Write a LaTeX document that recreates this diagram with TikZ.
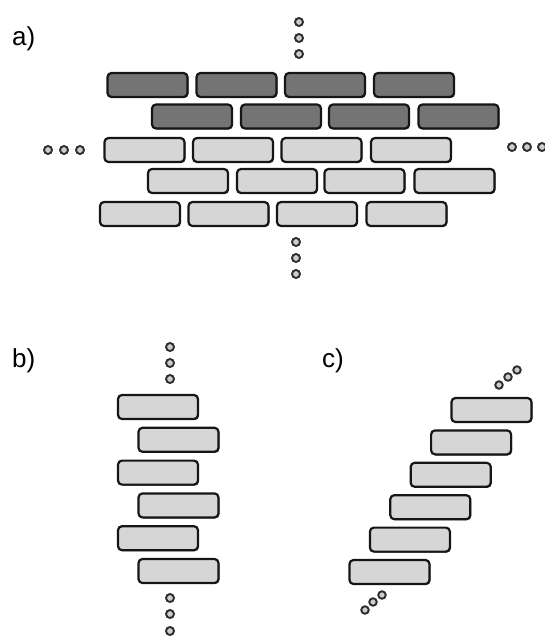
\documentclass[tikz,border=0pt]{standalone}
\usepackage{fontspec}
\setmainfont{Liberation Sans}
\usetikzlibrary{shadows}
\definecolor{brickdark}{RGB}{116,116,116}
\definecolor{bricklight}{RGB}{214,214,214}
\definecolor{edge}{RGB}{22,22,22}
\definecolor{dotfill}{RGB}{205,205,205}
\tikzset{
  brickbase/.style={draw=edge, line width=2.2pt, rounded corners=4pt,
    minimum width=80pt, minimum height=24pt, inner sep=0pt,
    drop shadow={shadow xshift=0.9pt, shadow yshift=-0.9pt, fill=black, opacity=0.85}},
  dbrick/.style={brickbase, fill=brickdark},
  lbrick/.style={brickbase, fill=bricklight},
  ellip/.style={circle, draw=edge!90!white, fill=dotfill, line width=1.9pt, minimum size=8pt, inner sep=0pt},
  sellip/.style={ellip, minimum size=7.5pt},
  panel/.style={anchor=base west, inner sep=0pt, font=\fontsize{26}{30}\selectfont}
}
\begin{document}
\begin{tikzpicture}[x=1pt, y=-1pt]
\useasboundingbox (0,0) rectangle (544,637);

% ---------- a) wall ----------
\node[panel] (la) at (12,45) {a)};

% top course, dark
\node[dbrick] (a11) at (147.5,85) {};
\node[dbrick] (a12) at (236.5,85) {};
\node[dbrick] (a13) at (325,85) {};
\node[dbrick] (a14) at (414,85) {};
% second course, dark
\node[dbrick] (a21) at (192,116.5) {};
\node[dbrick] (a22) at (281,116.5) {};
\node[dbrick] (a23) at (369,116.5) {};
\node[dbrick] (a24) at (458.5,116.5) {};
% third course
\node[lbrick] (a31) at (144.5,150) {};
\node[lbrick] (a32) at (233,150) {};
\node[lbrick] (a33) at (321.5,150) {};
\node[lbrick] (a34) at (411,150) {};
% fourth course
\node[lbrick] (a41) at (188,181) {};
\node[lbrick] (a42) at (277,181) {};
\node[lbrick] (a43) at (364.5,181) {};
\node[lbrick] (a44) at (454.5,181) {};
% bottom course
\node[lbrick] (a51) at (140,214) {};
\node[lbrick] (a52) at (228.5,214) {};
\node[lbrick] (a53) at (317,214) {};
\node[lbrick] (a54) at (406.5,214) {};

% continuation dots
\node[ellip] (at1) at (299,22) {};
\node[ellip] (at2) at (299,38) {};
\node[ellip] (at3) at (299,54) {};
\node[ellip] (ab1) at (296,242) {};
\node[ellip] (ab2) at (296,258) {};
\node[ellip] (ab3) at (296,274) {};
\node[ellip] (al1) at (48,150) {};
\node[ellip] (al2) at (64,150) {};
\node[ellip] (al3) at (80,150) {};
\node[ellip] (ar1) at (512,147) {};
\node[ellip] (ar2) at (527,147) {};
\node[ellip] (ar3) at (542,147) {};

% ---------- b) vertical stack ----------
\node[panel] (lb) at (12,367) {b)};
\foreach \i/\x in {1/158,2/178.5,3/158,4/178.5,5/158,6/178.5}{
  \node[lbrick] (b\i) at (\x,{407+(\i-1)*32.8}) {};
}
\node[ellip] (bt1) at (170,347) {};
\node[ellip] (bt2) at (170,363) {};
\node[ellip] (bt3) at (170,379) {};
\node[ellip] (bb1) at (170,598) {};
\node[ellip] (bb2) at (170,614) {};
\node[ellip] (bb3) at (170,631) {};

% ---------- c) staircase ----------
\node[panel] (lc) at (322,367) {c)};
\foreach \i in {1,...,6}{
  \node[lbrick] (c\i) at ({491.5-(\i-1)*20.4},{410+(\i-1)*32.4}) {};
}
\node[sellip] (ct1) at (499,385) {};
\node[sellip] (ct2) at (508,377) {};
\node[sellip] (ct3) at (517,370) {};
\node[sellip] (cb1) at (382,595) {};
\node[sellip] (cb2) at (373,602) {};
\node[sellip] (cb3) at (365,610) {};
\end{tikzpicture}
\end{document}
